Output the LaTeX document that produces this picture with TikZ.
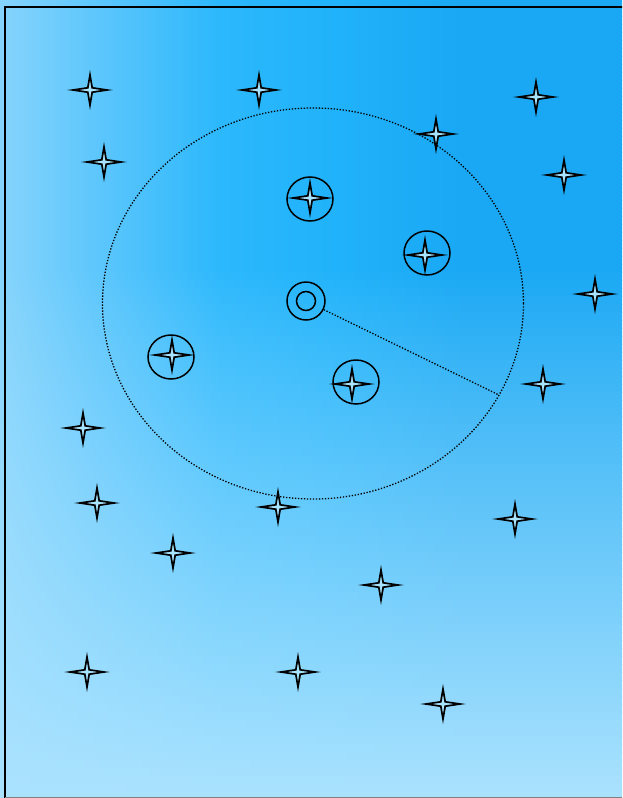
\documentclass[tikz,border=0pt]{standalone}
\usetikzlibrary{shapes.geometric}
\definecolor{bgA}{HTML}{86D4FC}
\definecolor{bgB}{HTML}{5CC6FC}
\definecolor{bgC}{HTML}{2CB8FC}
\definecolor{bgD}{HTML}{20B2FA}
\definecolor{bgE}{HTML}{1AA8F4}
\definecolor{bgbottom}{HTML}{AAE2FE}
\definecolor{starfill}{HTML}{A8E4FF}
\tikzset{
  starshape/.pic={
    \draw[line width=1.7pt, fill=starfill, line join=miter]
      (17,0) -- (2.2,-2.2) -- (0,-15) -- (-2.2,-2.2) -- (-17,0)
      -- (-2.2,2.2) -- (0,15) -- (2.2,2.2) -- cycle;
  },
  ring/.style={draw, line width=1.5pt, ellipse, minimum width=46pt, minimum height=44pt, inner sep=0pt},
  centerring/.style={draw, circle, line width=1.5pt, minimum size=38pt, inner sep=0pt},
  dotline/.style={line width=1.3pt, dash pattern=on 1.3pt off 1.7pt},
}
\begin{document}
\begin{tikzpicture}[x=1pt,y=-1pt]
\useasboundingbox (0,0) rectangle (622,798);
\foreach \i in {0,...,99}{
  \pgfmathsetmacro\ya{\i*8}
  \pgfmathsetmacro\yb{\i*8+8.6}
  \pgfmathsetmacro\p{100*max(0,(\i*8+4-270)/528)^0.9}
  \pgfdeclarehorizontalshading{band\i}{100bp}{%
    color(0bp)=(bgbottom!\p!bgA); color(25bp)=(bgbottom!\p!bgA);
    color(33bp)=(bgbottom!\p!bgB); color(42.7bp)=(bgbottom!\p!bgC);
    color(52bp)=(bgbottom!\p!bgD); color(62bp)=(bgbottom!\p!bgE);
    color(75bp)=(bgbottom!\p!bgE); color(100bp)=(bgbottom!\p!bgE)}
  \shade[shading=band\i] (0,\ya) rectangle (622,\yb);
}
\begin{scope}
\clip (0,0) rectangle (622,798);
\draw[line width=2pt] (5,798) -- (5,6.5) -- (640,6.5);
\draw[line width=2pt, black!50] (5,797.5) -- (640,797.5);
\end{scope}
% dotted orbit
\node[draw, ellipse, dotline, minimum width=421pt, minimum height=391pt, inner sep=0pt] (orbit) at (313,303.5) {};
% center
\node[centerring] (c) at (306,301) {};
\node[draw, circle, line width=1.5pt, minimum size=19pt, inner sep=0pt] (ci) at (306,301) {};
\coordinate (e) at (499,395);
\draw[dotline] (c) -- (e);
% rings
\node[ring] (r1) at (310,199) {};
\node[ring] (r2) at (427,253) {};
\node[ring] (r3) at (171,357) {};
\node[ring] (r4) at (356,382) {};
% stars
\foreach \n/\x/\y in {s1/90/90, s2/259/90, s3/536/97, s4/436/134, s5/104/162, s6/564/175,
  s7/310/198, s8/425/255, s9/595/294, s10/172/355, s11/352/384, s12/543/384,
  s13/83/428, s14/97/503, s15/278/507, s16/515/519, s17/173/553, s18/381/585,
  s19/87/672, s20/298/672, s21/443/704}
  {\pic (\n) at (\x,\y) {starshape};}
\end{tikzpicture}
\end{document}
